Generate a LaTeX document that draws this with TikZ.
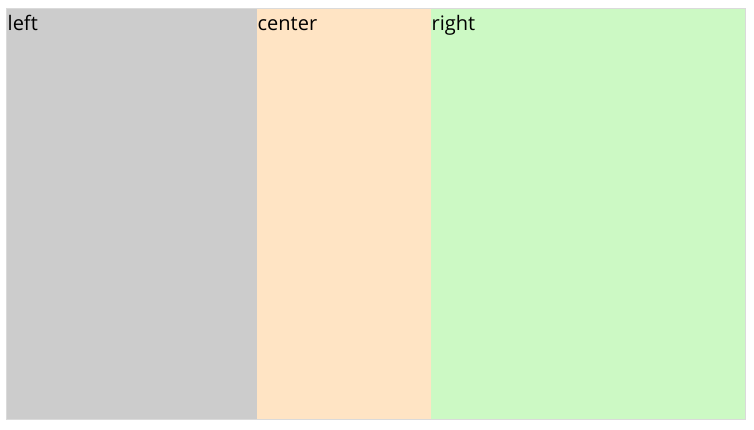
\documentclass[tikz,border=0pt]{standalone}
\usepackage{fontspec}
\setmainfont{Open Sans}
\definecolor{leftc}{RGB}{204,204,204}
\definecolor{centerc}{RGB}{255,228,196}
\definecolor{rightc}{RGB}{204,249,196}
\definecolor{framec}{RGB}{218,218,218}
\begin{document}
\begin{tikzpicture}[x=1pt,y=-1pt,
  lbl/.style={anchor=base west,inner sep=0pt,font=\fontsize{20}{23}\selectfont,text=black}]
\useasboundingbox (0,0) rectangle (754,429);
\fill[white] (0,0) rectangle (754,429);
\fill[leftc] (7,9) rectangle (257,419);
\fill[centerc] (257,9) rectangle (431,419);
\fill[rightc] (431,9) rectangle (745,419);
\draw[framec,line width=1pt] (6.5,8.5) rectangle (745.5,419.5);
\node[lbl] (l) at (7.5,30) {left};
\node[lbl] (c) at (257.5,30) {center};
\node[lbl] (r) at (431.5,30) {right};
\end{tikzpicture}
\end{document}
